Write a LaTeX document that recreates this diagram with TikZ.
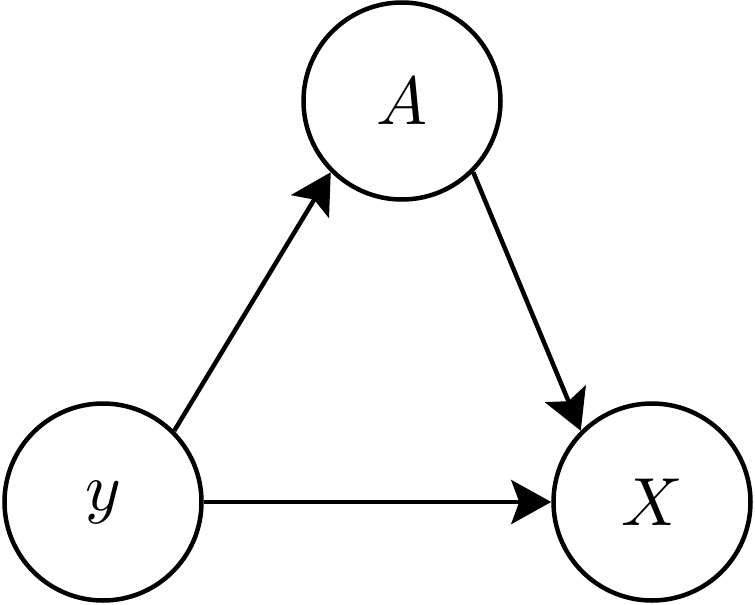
\documentclass[tikz,border=0pt]{standalone}
\usepackage{graphicx}
\usetikzlibrary{arrows.meta}
\newcommand{\bigmath}[1]{\scalebox{6.8}{$#1$}}
\begin{document}
\begin{tikzpicture}[x=1pt,y=-1pt,
  var/.style={circle,draw,line width=4.5pt,minimum size=197pt,inner sep=0pt},
  edge/.style={line width=4.5pt,-{Stealth[length=40pt,width=44pt,inset=8pt]}}]
\useasboundingbox (0,0) rectangle (755,605);
\node[var] (A) at (402,101) {\bigmath{A}};
\node[var] (y) at (103,502) {\bigmath{y}};
\node[var] (X) at (652,502) {\bigmath{X}};
\draw[edge] (y.45) -- (A.225);
\draw[edge] (A.-45) -- (X.135);
\draw[edge] (y.east) -- (X.west);
\end{tikzpicture}
\end{document}
